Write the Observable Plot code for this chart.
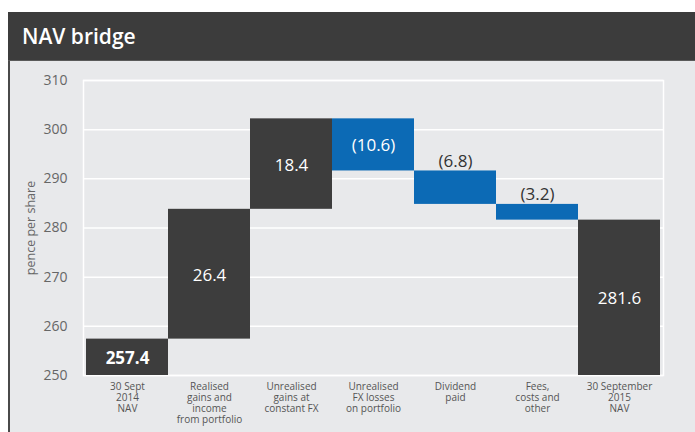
<!DOCTYPE html>
<html>
<head>
<meta charset="utf-8">
<script src="https://cdn.jsdelivr.net/npm/d3@7"></script>
<script src="https://cdn.jsdelivr.net/npm/@observablehq/plot@0.6"></script>
<style>
  html, body { margin: 0; padding: 0; background: #ffffff; width: 695px; height: 432px; overflow: hidden; font-family: "Open Sans", sans-serif; }
  #header { position: absolute; left: 8px; top: 12px; width: 687px; height: 49px; background: #3c3c3c; border-bottom: 1px solid #5a5a5a; box-sizing: border-box; }
  #header h1 { margin: 0; padding-left: 14px; line-height: 48px; font-size: 21px; font-weight: 600; color: #ffffff; font-family: "Open Sans", sans-serif; }
  #panel { position: absolute; left: 8px; top: 61px; width: 687px; height: 371px; background: #e8e9eb; border-left: 2px solid #4a4a4a; box-sizing: border-box; }
  #chart { position: absolute; left: 0; top: 61px; width: 695px; height: 371px; }
</style>
</head>
<body>
<div id="header"><h1>NAV bridge</h1></div>
<div id="panel"></div>
<div id="chart"></div>
<script>
const categories = [
  "30 Sept\n2014\nNAV",
  "Realised\ngains and\nincome\nfrom portfolio",
  "Unrealised\ngains at\nconstant FX",
  "Unrealised\nFX losses\non portfolio",
  "Dividend\npaid",
  "Fees,\ncosts and\nother",
  "30 September\n2015\nNAV"
];
const values = [257.4, 26.4, 18.4, -10.6, -6.8, -3.2, 281.6];
const kinds = ["total", "delta", "delta", "delta", "delta", "delta", "total"];
const valueLabels = ["257.4", "26.4", "18.4", "(10.6)", "(6.8)", "(3.2)", "281.6"];
const yTicks = [250, 260, 270, 280, 290, 300, 310];
const yLabel = "pence per share";

const base = 250;
let running = 0;
const data = categories.map((cat, i) => {
  let y1, y2;
  if (kinds[i] === "total") {
    y1 = base; y2 = values[i]; running = values[i];
  } else {
    y1 = running; y2 = running + values[i]; running = y2;
  }
  return {cat, y1, y2, top: Math.max(y1, y2), mid: (y1 + y2) / 2, value: values[i], kind: kinds[i], label: valueLabels[i], idx: i};
});

const isInside = d => d.kind === "total" || Math.abs(d.value) >= 7;
const insideBold = data.filter(d => isInside(d) && d.idx === 0);
const insideNormal = data.filter(d => isInside(d) && d.idx !== 0);
const above = data.filter(d => !isInside(d));

const dark = "#3d3d3d";
const blue = "#0c6ab5";

const chart = Plot.plot({
  width: 695,
  height: 371,
  marginLeft: 83,
  marginRight: 32,
  marginTop: 19,
  marginBottom: 57,
  style: {background: "transparent", fontFamily: "Open Sans, sans-serif", fontSize: "10px", color: "#555"},
  x: {domain: categories, padding: 0, axis: null},
  y: {domain: [250, 310], axis: null},
  marks: [
    Plot.gridY(yTicks, {stroke: "#ffffff", strokeOpacity: 1, strokeWidth: 1.5}),
    Plot.frame({stroke: "#ffffff", strokeWidth: 1.5}),
    Plot.barY(data, {x: "cat", y1: "y1", y2: "y2", fill: d => d.value < 0 ? blue : dark}),
    Plot.text(insideBold, {x: "cat", y: "mid", text: "label", fill: "#ffffff", fontSize: 17, fontWeight: "bold", dy: 1}),
    Plot.text(insideNormal, {x: "cat", y: "mid", text: "label", fill: "#ffffff", fontSize: 17, dy: 1}),
    Plot.text(above, {x: "cat", y: "top", text: "label", fill: "#333333", fontSize: 17, lineAnchor: "bottom", dy: -4}),
    Plot.axisY(yTicks, {tickSize: 0, tickPadding: 16, fontSize: 14, fill: "#666", label: null}),
    Plot.axisX(categories, {tickSize: 0, tickPadding: 7, fontSize: 10, lineHeight: 1.08, fill: "#555", label: null}),
    Plot.text([yLabel], {frameAnchor: "left", textAnchor: "middle", dx: -53, rotate: -90, fontSize: 12.5, fill: "#666"})
  ]
});
document.getElementById("chart").appendChild(chart);
</script>
</body>
</html>
